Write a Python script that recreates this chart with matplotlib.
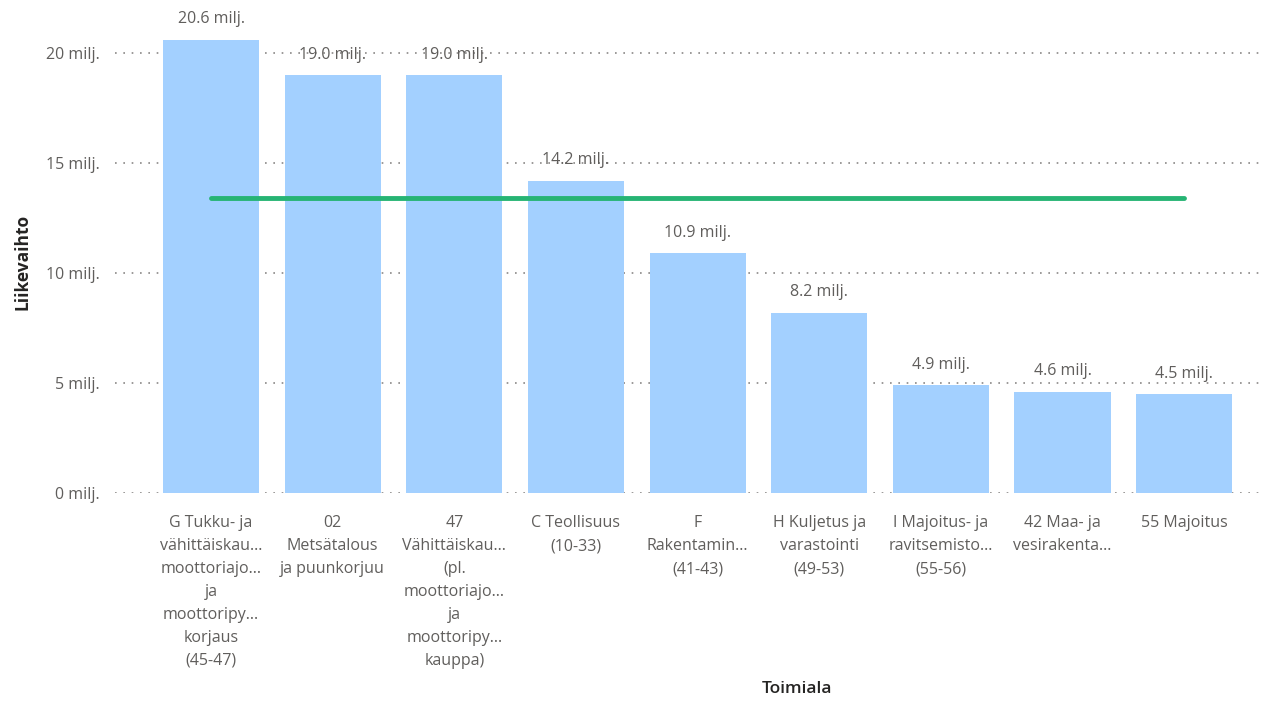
import numpy as np
import matplotlib.pyplot as plt

# Liikevaihto by toimiala (million euros)
categories = [
    "G Tukku- ja\nvähittäiskau...\nmoottoriajo...\nja\nmoottoripy...\nkorjaus\n(45-47)",
    "02\nMetsätalous\nja puunkorjuu",
    "47\nVähittäiskau...\n(pl.\nmoottoriajo...\nja\nmoottoripy...\nkauppa)",
    "C Teollisuus\n(10-33)",
    "F\nRakentamin...\n(41-43)",
    "H Kuljetus ja\nvarastointi\n(49-53)",
    "I Majoitus- ja\nravitsemisto...\n(55-56)",
    "42 Maa- ja\nvesirakenta...",
    "55 Majoitus",
]
values = [20.6, 19.0, 19.0, 14.2, 10.9, 8.2, 4.9, 4.6, 4.5]
average = 13.4
yticks = [0, 5, 10, 15, 20]

plt.rcParams['font.family'] = ['Open Sans', 'DejaVu Sans']
txt = '#605E5C'

fig = plt.figure(figsize=(12.66, 7.01), dpi=100)
ax = fig.add_axes([115/1266, 1 - 493/701, 1147/1266, 463/701])

x = np.arange(len(values))
ax.bar(x, values, width=0.79, color='#A3D0FF', zorder=2)
ax.plot([x[0], x[-1]], [average, average], color='#26B474', lw=3.5,
        solid_capstyle='round', zorder=3)

for xi, v in zip(x, values):
    ax.annotate(f"{v:.1f} milj.", (xi, v), xytext=(0, 9), textcoords='offset points',
                ha='center', va='bottom', fontsize=11.5, color=txt, zorder=4)

ax.set_xlim(-0.79, 8.64)
ax.set_ylim(0, 21.05)
ax.set_yticks(yticks)
ax.set_yticklabels([f"{t} milj." for t in yticks])
ax.set_xticks(x)
ax.set_xticklabels(categories, linespacing=1.58)
ax.tick_params(axis='both', length=0, labelsize=11.5, labelcolor=txt)
ax.tick_params(axis='y', pad=11)
ax.tick_params(axis='x', pad=16)
ax.grid(axis='y', linestyle=(0, (1, 4)), color='#8a8886', lw=1.2, zorder=0)
for s in ax.spines.values():
    s.set_visible(False)

ax.set_ylabel("Liikevaihto", fontsize=12.5, fontweight='bold', color='#252423')
ax.yaxis.set_label_coords(-0.073, 0.5)
ax.set_xlabel("Toimiala", fontsize=12.5, fontweight='semibold', color='#252423')
ax.xaxis.set_label_coords(0.595, -0.405)

fig.savefig('out.png', dpi=100)
